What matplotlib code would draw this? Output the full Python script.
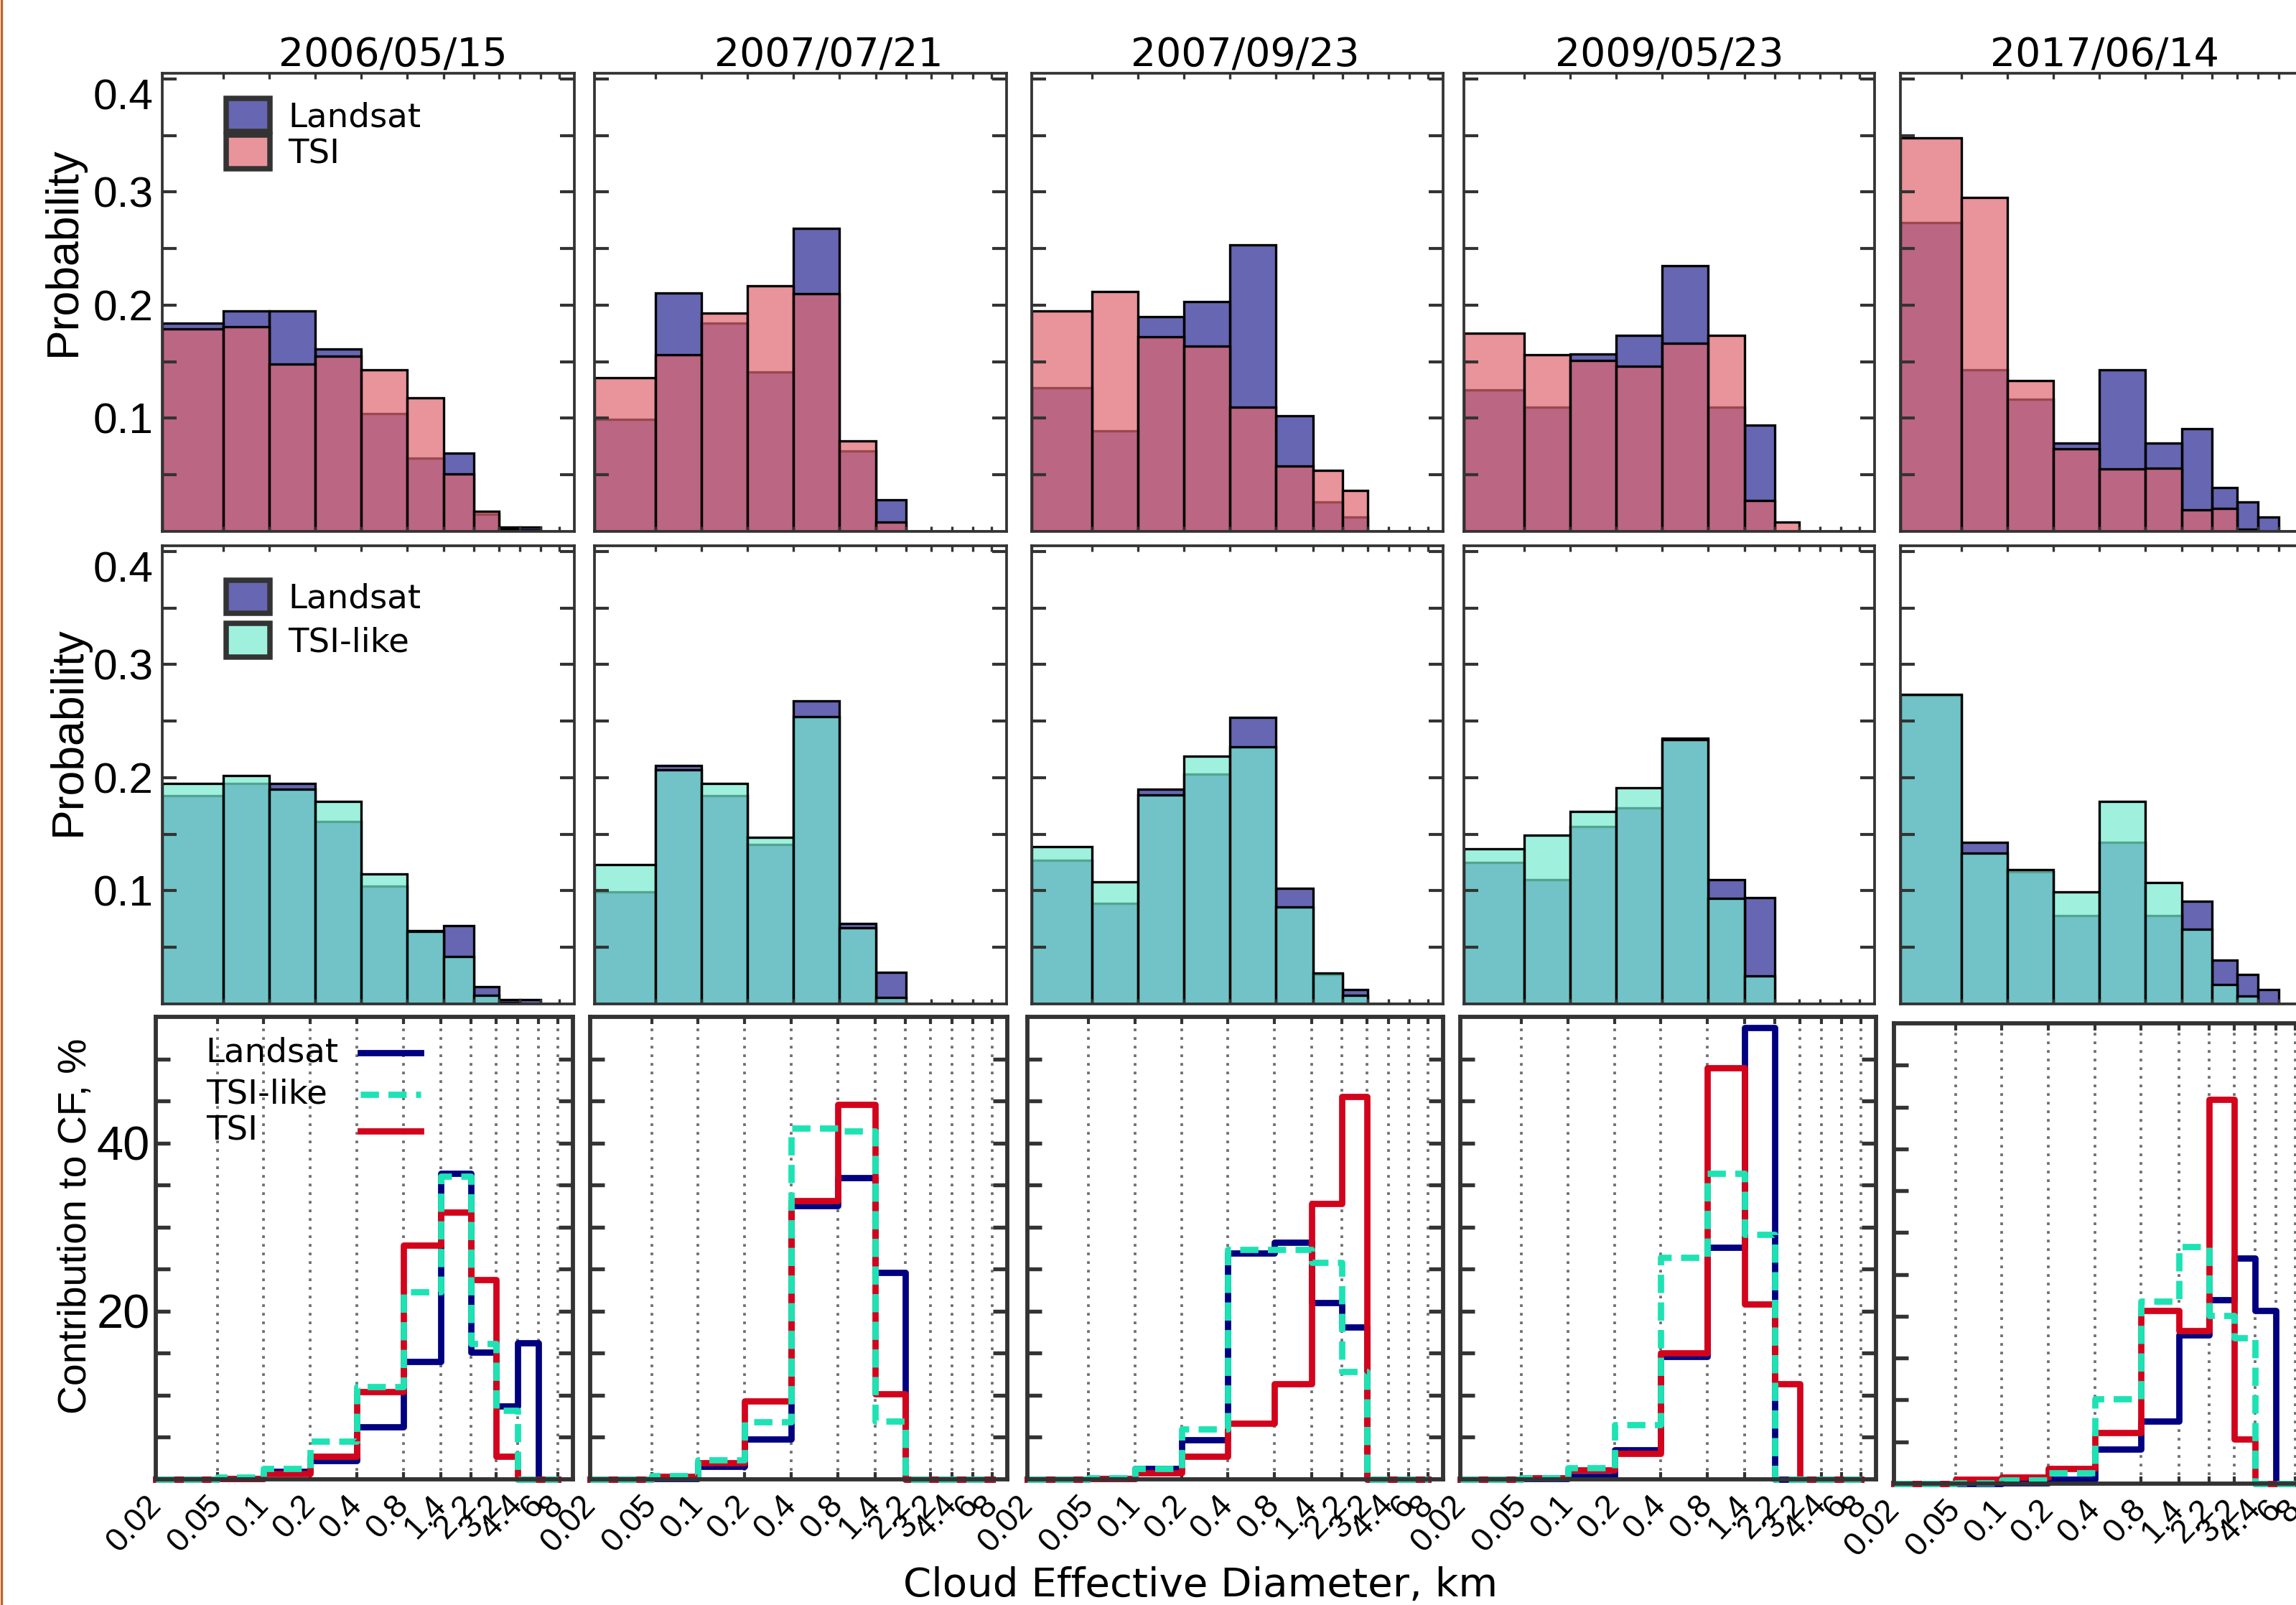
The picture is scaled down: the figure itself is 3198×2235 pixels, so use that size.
# coding: UTF-8
"""
Cloud size distributions for five Landsat scenes: Landsat vs TSI, Landsat vs TSI-like,
and the contribution of each size bin to the cloud fraction.
"""

import numpy as np
import matplotlib
matplotlib.use('Agg')
import matplotlib.pyplot as plt
from matplotlib.patches import Patch
from matplotlib.lines import Line2D
from matplotlib.ticker import FixedLocator, NullLocator, NullFormatter

dates = ['2006/05/15', '2007/07/21', '2007/09/23', '2009/05/23', '2017/06/14']
bin_edges = [0.02, 0.05, 0.1, 0.2, 0.4, 0.8, 1.4, 2.2, 3.2, 4.4, 6, 8]
edge_labels = ['0.02', '0.05', '0.1', '0.2', '0.4', '0.8', '1.4', '2.2', '3.2', '4.4', '6', '8']

# probability per size bin (one row per scene)
landsat_prob = [
    [0.184, 0.195, 0.195, 0.161, 0.104, 0.065, 0.069, 0.015, 0.004, 0.004, 0.0],
    [0.099, 0.211, 0.184, 0.141, 0.268, 0.071, 0.028, 0.0, 0.0, 0.0, 0.0],
    [0.127, 0.089, 0.190, 0.203, 0.253, 0.102, 0.026, 0.013, 0.0, 0.0, 0.0],
    [0.125, 0.110, 0.157, 0.173, 0.235, 0.110, 0.094, 0.0, 0.0, 0.0, 0.0],
    [0.273, 0.143, 0.117, 0.078, 0.143, 0.078, 0.091, 0.039, 0.026, 0.013, 0.0],
]
tsi_prob = [
    [0.179, 0.181, 0.148, 0.155, 0.143, 0.118, 0.051, 0.018, 0.002, 0.001, 0.0],
    [0.136, 0.156, 0.193, 0.217, 0.210, 0.080, 0.008, 0.0, 0.0, 0.0, 0.0],
    [0.195, 0.212, 0.172, 0.164, 0.110, 0.058, 0.054, 0.036, 0.0, 0.0, 0.0],
    [0.175, 0.156, 0.151, 0.146, 0.166, 0.173, 0.027, 0.008, 0.0, 0.0, 0.0],
    [0.348, 0.295, 0.133, 0.073, 0.055, 0.056, 0.019, 0.020, 0.002, 0.0, 0.0],
]
tsi_like_prob = [
    [0.195, 0.202, 0.190, 0.179, 0.115, 0.064, 0.042, 0.0075, 0.001, 0.0, 0.0],
    [0.123, 0.207, 0.195, 0.147, 0.254, 0.067, 0.006, 0.0, 0.0, 0.0, 0.0],
    [0.139, 0.108, 0.1845, 0.219, 0.2275, 0.086, 0.027, 0.0076, 0.0, 0.0, 0.0],
    [0.137, 0.149, 0.170, 0.191, 0.2335, 0.093, 0.025, 0.0, 0.0, 0.0, 0.0],
    [0.2735, 0.133, 0.119, 0.099, 0.179, 0.107, 0.066, 0.017, 0.007, 0.0, 0.0],
]

# contribution to cloud fraction, %
landsat_cf = [
    [0, 0.1, 0.9, 2.2, 6.2, 14.0, 36.4, 15.1, 8.7, 16.2, 0],
    [0, 0.1, 1.5, 4.8, 32.5, 35.9, 24.6, 0, 0, 0, 0],
    [0, 0.1, 1.3, 4.7, 26.9, 28.2, 21.0, 18.1, 0, 0, 0],
    [0, 0.1, 0.3, 3.5, 14.6, 27.6, 53.7, 0, 0, 0, 0],
    [0, 0, 0.1, 0.5, 4.1, 7.5, 17.8, 22.0, 26.9, 20.7, 0],
]
tsi_like_cf = [
    [0, 0.25, 1.3, 4.5, 11.0, 22.3, 36.0, 16.1, 8.2, 0, 0],
    [0, 0.4, 2.3, 6.8, 41.8, 41.4, 6.9, 0, 0, 0, 0],
    [0, 0.2, 1.3, 6.0, 27.3, 27.3, 25.8, 12.8, 0, 0, 0],
    [0, 0.2, 1.4, 6.5, 26.4, 36.4, 29.1, 0, 0, 0, 0],
    [0, 0.1, 0.4, 1.3, 10.1, 21.8, 28.3, 20.1, 17.4, 0, 0],
]
tsi_cf = [
    [0, 0.1, 0.7, 2.7, 10.4, 27.8, 31.8, 23.7, 2.7, 0, 0],
    [0, 0.3, 2.0, 9.3, 33.1, 44.6, 10.2, 0, 0, 0, 0],
    [0, 0.1, 0.8, 2.7, 6.7, 11.4, 32.8, 45.5, 0, 0, 0],
    [0, 0.2, 1.1, 3.1, 15.0, 48.9, 20.8, 11.4, 0, 0, 0],
    [0, 0.5, 0.8, 1.8, 6.1, 20.7, 18.3, 45.9, 5.3, 0, 0],
]

W, H = 3198, 2235
NARROW = ['Liberation Sans Narrow', 'Liberation Sans', 'DejaVu Sans']

# panel boxes in pixels (left, top, right, bottom)
prob_cols = [(226, 800), (828, 1402), (1437, 2010), (2039, 2611), (2647, 3221)]
top_rows = (102, 740)
mid_rows = (760, 1398)
cf_boxes = [(217, 1416, 798, 2060), (822, 1416, 1403, 2060), (1431, 1416, 2010, 2060),
            (2034, 1416, 2613, 2060), (2638, 1425, 3218, 2066)]
title_x = [547, 1154, 1734, 2325, 2931]

c_landsat = (0.0, 0.0, 0.5, 0.6)
c_tsi = (224 / 255, 102 / 255, 111 / 255, 0.7)
c_tsi_like = (119 / 255, 236 / 255, 208 / 255, 0.7)
l_landsat = '#000080'
l_tsi = '#D3031C'
l_tsi_like = '#1DE3B4'
LW = 2.1
TSI_LIKE_DASH = (0, (2.9, 1.5))


def box(x0, y0, x1, y1):
    return [x0 / W, 1 - y1 / H, (x1 - x0) / W, (y1 - y0) / H]


def prob_axes(ax, first):
    ax.set_xscale('log')
    ax.set_xlim(0.02, 10)
    ax.set_ylim(0, 0.405)
    ax.xaxis.set_major_locator(FixedLocator(bin_edges))
    ax.xaxis.set_minor_locator(NullLocator())
    ax.xaxis.set_major_formatter(NullFormatter())
    ax.tick_params(axis='x', which='both', direction='in', top=True, bottom=True,
                   length=1.8, width=0.8, color='#333333')
    ax.set_yticks(np.arange(1, 9) * 0.05)
    if first:
        labels = ax.set_yticklabels(['', '0.1', '', '0.2', '', '0.3', '', '0.4'],
                                    family=NARROW, fontsize=14.5)
        # the top label sits just under its tick, as in the original
        labels[-1].set_verticalalignment('top')
    else:
        ax.set_yticklabels([])
    ax.tick_params(axis='y', direction='in', left=True, right=True, length=4.8, width=1.0,
                   color='#333333', pad=3)
    for s in ax.spines.values():
        s.set_color('#333333')
        s.set_linewidth(0.9)


def draw_bars(ax, under, over, c_under, c_over):
    e = np.array(bin_edges)
    w = np.diff(e)
    ax.bar(e[:-1], under, width=w, align='edge', color=c_under, edgecolor='black', linewidth=0.8)
    ax.bar(e[:-1], over, width=w, align='edge', color=c_over, edgecolor='black', linewidth=0.8)


def cf_axes(ax, first):
    ax.set_xscale('log')
    ax.set_xlim(0.02, 10)
    ax.set_ylim(0, 55)
    ax.xaxis.set_major_locator(FixedLocator(bin_edges))
    ax.xaxis.set_minor_locator(NullLocator())
    ax.set_xticklabels(edge_labels, rotation=47, ha='right', va='center', rotation_mode='anchor',
                       fontsize=11, family='Liberation Sans')
    ax.tick_params(axis='x', which='both', direction='in', top=True, bottom=True,
                   length=2.5, width=1.0, color='#333333', pad=7)
    ax.set_yticks(np.arange(5, 55, 5))
    if first:
        ax.set_yticklabels(['' if v not in (20, 40) else str(v) for v in range(5, 55, 5)],
                           family=NARROW, fontsize=16)
    else:
        ax.set_yticklabels([])
    ax.tick_params(axis='y', direction='in', left=True, right=True, length=4.8, width=1.3,
                   color='#333333', pad=2)
    ax.grid(axis='x', linestyle=(0, (1, 2.2)), color='#6f6f6f', linewidth=0.9)
    for s in ax.spines.values():
        s.set_color('#333333')
        s.set_linewidth(1.4)


def cf_legend(ax):
    # text column on the left, line samples in a column on the right
    rows = [('Landsat', l_landsat, '-', 0.922),
            ('TSI-like', l_tsi_like, TSI_LIKE_DASH, 0.832),
            ('TSI', l_tsi, '-', 0.753)]
    for label, color, ls, y in rows:
        ax.text(0.12, y, label, transform=ax.transAxes, ha='left', va='center', fontsize=11.2)
        ax.add_line(Line2D([0.49, 0.635], [y, y], transform=ax.transAxes, color=color,
                           lw=LW, linestyle=ls))


def run():
    fig = plt.figure(figsize=(W / 300, H / 300), dpi=300)

    for i in range(5):
        x0, x1 = prob_cols[i]

        ax = fig.add_axes(box(x0, top_rows[0], x1, top_rows[1]))
        draw_bars(ax, landsat_prob[i], tsi_prob[i], c_landsat, c_tsi)
        prob_axes(ax, i == 0)
        if i == 0:
            handles = [Patch(facecolor=c_landsat, edgecolor='#333333', linewidth=1.8),
                       Patch(facecolor=c_tsi, edgecolor='#333333', linewidth=1.8)]
            ax.legend(handles, ['Landsat', 'TSI'], loc='upper left', bbox_to_anchor=(0.155, 0.945),
                      frameon=False, fontsize=11.2, handlelength=1.3, handleheight=1.15,
                      handletextpad=0.55, labelspacing=0.05, borderpad=0, borderaxespad=0)

        ax = fig.add_axes(box(x0, mid_rows[0], x1, mid_rows[1]))
        draw_bars(ax, landsat_prob[i], tsi_like_prob[i], c_landsat, c_tsi_like)
        prob_axes(ax, i == 0)
        if i == 0:
            handles = [Patch(facecolor=c_landsat, edgecolor='#333333', linewidth=1.8),
                       Patch(facecolor=c_tsi_like, edgecolor='#333333', linewidth=1.8)]
            ax.legend(handles, ['Landsat', 'TSI-like'], loc='upper left', bbox_to_anchor=(0.155, 0.925),
                      frameon=False, fontsize=11.2, handlelength=1.3, handleheight=1.15,
                      handletextpad=0.55, labelspacing=0.25, borderpad=0, borderaxespad=0)

        ax = fig.add_axes(box(*cf_boxes[i]))
        ax.step(bin_edges, np.append(landsat_cf[i], landsat_cf[i][-1]), where='post',
                color=l_landsat, lw=LW, clip_on=False)
        ax.step(bin_edges, np.append(tsi_cf[i], tsi_cf[i][-1]), where='post',
                color=l_tsi, lw=LW, clip_on=False)
        ax.step(bin_edges, np.append(tsi_like_cf[i], tsi_like_cf[i][-1]), where='post',
                color=l_tsi_like, lw=LW, linestyle=TSI_LIKE_DASH, clip_on=False)
        cf_axes(ax, i == 0)
        if i == 0:
            cf_legend(ax)

        fig.text(title_x[i] / W, 1 - 77 / H, dates[i], ha='center', va='center', fontsize=13.3)

    fig.text(88 / W, 1 - 350 / H, 'Probability', rotation=90, ha='center', va='center',
             fontsize=15, family='Liberation Sans')
    fig.text(95 / W, 1 - 1018 / H, 'Probability', rotation=90, ha='center', va='center',
             fontsize=15, family='Liberation Sans')
    fig.text(106 / W, 1 - 1707 / H, 'Contribution to CF, %', rotation=90, ha='center', va='center',
             fontsize=13.3, family='Liberation Sans')
    fig.text(1672 / W, 1 - 2208 / H, 'Cloud Effective Diameter, km', ha='center', va='center',
             fontsize=13.5)

    # thin frame line at the left edge of the original page
    fig.add_artist(Line2D([1.5 / W, 1.5 / W], [0, 1], transform=fig.transFigure,
                          color='#C0622B', lw=0.8))

    fig.savefig('out.png', dpi=300)


if __name__ == '__main__':
    run()
